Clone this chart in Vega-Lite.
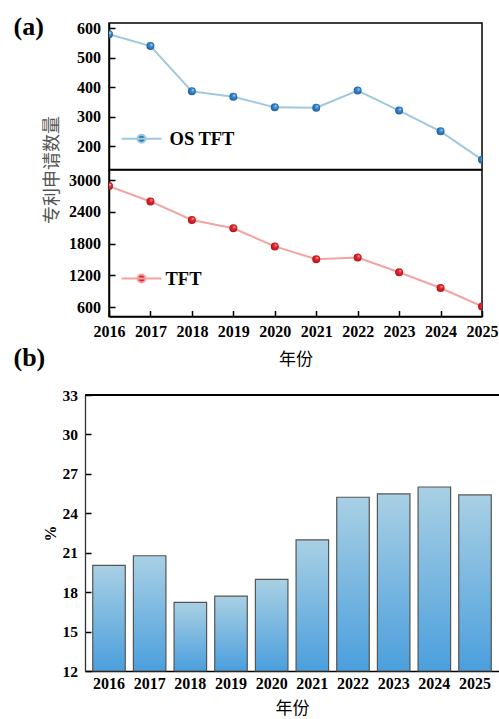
{
  "$schema": "https://vega.github.io/schema/vega-lite/v6.json",
  "background": "white",
  "padding": {"left": 13, "top": 14, "right": 0, "bottom": 0},
  "bounds": "flush",
  "spacing": 372,
  "resolve": {"scale": {"x": "independent", "y": "independent", "color": "independent"}},
  "config": {
    "axis": {
      "labelFont": "Liberation Serif",
      "labelFontWeight": "bold",
      "labelFontSize": 16,
      "labelColor": "#000000",
      "labelOverlap": false,
      "domainColor": "#000000",
      "domainWidth": 1.5,
      "tickColor": "#000000",
      "tickWidth": 1.5,
      "tickSize": -6,
      "grid": false,
      "titleFont": "Noto Sans CJK SC",
      "titleFontWeight": "normal",
      "titleFontSize": 17,
      "titleColor": "#000000"
    },
    "legend": {
      "padding": 0,
      "labelFont": "Liberation Serif",
      "labelFontWeight": "bold",
      "labelFontSize": 18.5,
      "labelColor": "#000000"
    }
  },
  "datasets": {
    "patents": [
      {"year": 2016, "series": "OS TFT", "count": 579},
      {"year": 2017, "series": "OS TFT", "count": 539},
      {"year": 2018, "series": "OS TFT", "count": 386},
      {"year": 2019, "series": "OS TFT", "count": 368},
      {"year": 2020, "series": "OS TFT", "count": 332},
      {"year": 2021, "series": "OS TFT", "count": 331},
      {"year": 2022, "series": "OS TFT", "count": 389},
      {"year": 2023, "series": "OS TFT", "count": 321},
      {"year": 2024, "series": "OS TFT", "count": 251},
      {"year": 2025, "series": "OS TFT", "count": 155},
      {"year": 2016, "series": "TFT", "count": 2886},
      {"year": 2017, "series": "TFT", "count": 2596},
      {"year": 2018, "series": "TFT", "count": 2246},
      {"year": 2019, "series": "TFT", "count": 2089},
      {"year": 2020, "series": "TFT", "count": 1747},
      {"year": 2021, "series": "TFT", "count": 1506},
      {"year": 2022, "series": "TFT", "count": 1538},
      {"year": 2023, "series": "TFT", "count": 1259},
      {"year": 2024, "series": "TFT", "count": 962},
      {"year": 2025, "series": "TFT", "count": 613}
    ],
    "share": [
      {"year": 2016, "percent": 20.04},
      {"year": 2017, "percent": 20.77},
      {"year": 2018, "percent": 17.22},
      {"year": 2019, "percent": 17.69},
      {"year": 2020, "percent": 18.97},
      {"year": 2021, "percent": 21.97},
      {"year": 2022, "percent": 25.22},
      {"year": 2023, "percent": 25.47},
      {"year": 2024, "percent": 26.0},
      {"year": 2025, "percent": 25.4}
    ]
  },
  "vconcat": [
    {
      "title": {
        "text": "(a)", "orient": "top", "anchor": "start", "frame": "group",
        "offset": 0, "baseline": "top", "dx": -71.5, "dy": 21,
        "font": "Liberation Serif", "fontSize": 26, "fontWeight": "bold", "color": "#000000"
      },
      "bounds": "flush",
      "spacing": 0,
      "hconcat": [
        {
          "width": 24,
          "height": 10,
          "view": {"stroke": null},
          "data": {"values": []},
          "mark": "point"
        },
        {
          "bounds": "flush",
          "spacing": 0,
          "resolve": {
            "scale": {"x": "independent", "y": "independent", "color": "independent"},
            "legend": {"color": "independent"}
          },
          "vconcat": [
            {
              "width": 373,
              "height": 146.5,
              "view": {"stroke": "#000000", "strokeWidth": 1.5},
              "data": {"name": "patents"},
              "transform": [{"filter": "datum.series === 'OS TFT'"}],
              "encoding": {
                "x": {
                  "field": "year", "type": "quantitative",
                  "scale": {"domain": [2016, 2025], "nice": false, "zero": false},
                  "axis": null
                },
                "y": {
                  "field": "count", "type": "quantitative",
                  "scale": {"domain": [122, 617], "nice": false, "zero": false},
                  "axis": {
                    "values": [200, 300, 400, 500, 600], "format": "d", "labelPadding": 14.5,
                    "title": "专利申请数量", "titleX": -57, "titleY": 146.5, "titleAngle": -90,
                    "titleAlign": "center", "titleBaseline": "middle",
                    "titleColor": "#555555", "titleFontSize": 18
                  }
                }
              },
              "layer": [
                {
                  "mark": {"type": "line", "strokeWidth": 2, "clip": true},
                  "encoding": {
                    "color": {
                      "field": "series", "type": "nominal",
                      "scale": {"domain": ["OS TFT"], "range": ["#9dc8de"]},
                      "legend": {
                        "orient": "none", "legendX": 11.5, "legendY": 94.7, "title": null,
                        "symbolType": "M-1,0L1,0M-0.2,0A0.2,0.2,0,1,1,0.2,0A0.2,0.2,0,1,1,-0.2,0Z",
                        "symbolSize": 1600, "labelOffset": 7,
                        "encode": {
                          "symbols": {
                            "update": {
                              "fill": {"value": "#2a78b8"},
                              "stroke": {"value": "#9dc8de"},
                              "strokeWidth": {"value": 2},
                              "opacity": {"value": 1}
                            }
                          }
                        }
                      }
                    }
                  }
                },
                {
                  "mark": {
                    "type": "point", "filled": true, "size": 64, "clip": true, "opacity": 1, "strokeWidth": 0,
                    "fill": {
                      "gradient": "radial", "x1": 0.65, "y1": 0.3, "r1": 0, "x2": 0.5, "y2": 0.5, "r2": 0.55,
                      "stops": [
                        {"offset": 0, "color": "#dcefff"},
                        {"offset": 0.3, "color": "#4593d2"},
                        {"offset": 1, "color": "#185898"}
                      ]
                    }
                  }
                }
              ]
            },
            {
              "width": 373,
              "height": 146.5,
              "view": {"stroke": "#000000", "strokeWidth": 1.5},
              "data": {"name": "patents"},
              "transform": [{"filter": "datum.series === 'TFT'"}],
              "encoding": {
                "x": {
                  "field": "year", "type": "quantitative",
                  "scale": {"domain": [2016, 2025], "nice": false, "zero": false},
                  "axis": {
                    "title": "年份", "values": [2016, 2017, 2018, 2019, 2020, 2021, 2022, 2023, 2024, 2025],
                    "format": "d", "labelFlush": false, "labelPadding": 12.5, "titlePadding": 12
                  }
                },
                "y": {
                  "field": "count", "type": "quantitative",
                  "scale": {"domain": [423, 3190], "nice": false, "zero": false},
                  "axis": {"title": null, "values": [600, 1200, 1800, 2400, 3000], "format": "d", "labelPadding": 14.5}
                }
              },
              "layer": [
                {
                  "mark": {"type": "line", "strokeWidth": 2, "clip": true},
                  "encoding": {
                    "color": {
                      "field": "series", "type": "nominal",
                      "scale": {"domain": ["TFT"], "range": ["#f4a3a3"]},
                      "legend": {
                        "orient": "none", "legendX": 11.5, "legendY": 87.5, "title": null,
                        "symbolType": "M-1,0L1,0M-0.2,0A0.2,0.2,0,1,1,0.2,0A0.2,0.2,0,1,1,-0.2,0Z",
                        "symbolSize": 1600, "labelOffset": 3,
                        "encode": {
                          "symbols": {
                            "update": {
                              "fill": {"value": "#e0222a"},
                              "stroke": {"value": "#f4a3a3"},
                              "strokeWidth": {"value": 2},
                              "opacity": {"value": 1}
                            }
                          }
                        }
                      }
                    }
                  }
                },
                {
                  "mark": {
                    "type": "point", "filled": true, "size": 64, "clip": true, "opacity": 1, "strokeWidth": 0,
                    "fill": {
                      "gradient": "radial", "x1": 0.65, "y1": 0.3, "r1": 0, "x2": 0.5, "y2": 0.5, "r2": 0.55,
                      "stops": [
                        {"offset": 0, "color": "#ffe0e0"},
                        {"offset": 0.3, "color": "#ec3036"},
                        {"offset": 1, "color": "#a80f14"}
                      ]
                    }
                  }
                }
              ]
            }
          ]
        }
      ]
    },
    {
      "width": 414,
      "height": 276,
      "view": {"stroke": null},
      "title": {
        "text": "(b)", "orient": "top", "anchor": "start", "frame": "group",
        "offset": 0, "baseline": "top", "dx": -71.5, "dy": -17,
        "font": "Liberation Serif", "fontSize": 26, "fontWeight": "bold", "color": "#000000"
      },
      "data": {"name": "share"},
      "encoding": {
        "y": {
          "field": "percent", "type": "quantitative",
          "scale": {"domain": [12, 33], "nice": false, "zero": false},
          "axis": {
            "title": "%", "values": [12, 15, 18, 21, 24, 27, 30, 33], "labelPadding": 13.5,
            "labelOverlap": false, "labelSeparation": 0, "labelFontSize": 15.5,
            "domainColor": "#333333", "domainWidth": 1.3,
            "titleFont": "Liberation Serif", "titleFontWeight": "bold", "titleFontSize": 16, "titlePadding": 4
          }
        }
      },
      "layer": [
        {
          "mark": {
            "type": "bar", "stroke": "#555555", "strokeWidth": 1.2,
            "fill": {
              "gradient": "linear", "x1": 0, "y1": 0, "x2": 0, "y2": 1,
              "stops": [
                {"offset": 0, "color": "#a9d0e4"},
                {"offset": 1, "color": "#4b9fdd"}
              ]
            }
          },
          "encoding": {
            "x": {
              "field": "year", "type": "ordinal",
              "scale": {"paddingInner": 0.2, "paddingOuter": 0.19},
              "axis": {"title": "年份", "labelAngle": 0, "ticks": false, "labelPadding": 4, "titlePadding": 9}
            },
            "y2": {"datum": 12}
          }
        },
        {
          "mark": {"type": "rule", "color": "#000000", "strokeWidth": 1.5},
          "encoding": {
            "y": {
              "datum": 33, "type": "quantitative",
              "axis": {
                "title": "%", "values": [12, 15, 18, 21, 24, 27, 30, 33], "labelPadding": 13.5,
                "labelOverlap": false, "labelSeparation": 0, "labelFontSize": 15.5,
                "domainColor": "#333333", "domainWidth": 1.3,
                "titleFont": "Liberation Serif", "titleFontWeight": "bold", "titleFontSize": 16, "titlePadding": 4
              }
            }
          }
        }
      ]
    }
  ]
}
